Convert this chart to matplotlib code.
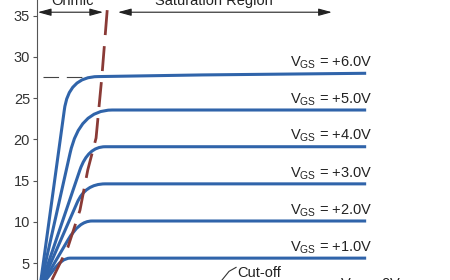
import matplotlib
matplotlib.use("Agg")
import matplotlib.pyplot as plt
from matplotlib.path import Path
from matplotlib.patches import PathPatch

plt.rcParams['font.family'] = ['Liberation Sans', 'DejaVu Sans']
plt.rcParams['mathtext.fontset'] = 'custom'
plt.rcParams['mathtext.rm'] = 'Liberation Sans'

# Curvas ID-VDS (VDS en V, ID en mA)
# puntos: origen, tramo lineal, inicio del codo, esquina (control), fin del codo, saturación
vds_6v = [0.0, 0.07, 0.66, 0.76, 1.48, 4.0, 7.97]
id_6v = [0.0, 2.0, 23.5, 27.6, 27.6, 27.8, 28.0]

vds_5v = [0.0, 0.07, 0.80, 1.03, 1.82, 7.97]
id_5v = [0.0, 2.0, 18.3, 23.55, 23.55, 23.55]

vds_4v = [0.0, 0.07, 1.04, 1.235, 1.65, 7.97]
id_4v = [0.0, 2.0, 16.3, 19.1, 19.1, 19.1]

vds_3v = [0.0, 0.07, 0.97, 1.167, 1.65, 7.97]
id_3v = [0.0, 2.0, 12.3, 14.6, 14.6, 14.6]

vds_2v = [0.0, 0.07, 0.75, 1.014, 1.33, 7.97]
id_2v = [0.0, 2.0, 7.8, 10.1, 10.1, 10.1]

vds_1v = [0.0, 0.07, 0.39, 0.60, 0.80, 7.97]
id_1v = [0.0, 2.0, 4.1, 5.6, 5.6, 5.6]

vgs_labels = ['+6.0V', '+5.0V', '+4.0V', '+3.0V', '+2.0V', '+1.0V']

# Lugar geométrico de estrangulamiento (línea discontinua)
vds_pinch = [0.36, 0.75, 1.04, 1.23, 1.43, 1.57, 1.72]
id_pinch = [2.95, 6.95, 11.4, 16.3, 20.15, 27.55, 36.9]

yticks = [5, 10, 15, 20, 25, 30, 35]

curves = [(vds_6v, id_6v), (vds_5v, id_5v), (vds_4v, id_4v),
          (vds_3v, id_3v), (vds_2v, id_2v), (vds_1v, id_1v)]

fig = plt.figure(figsize=(4.5, 2.8), dpi=100)
ax = fig.add_axes([37 / 450, 0, 413 / 450, 1])
ax.set_xlim(0, 10)
ax.set_ylim(2.95, 36.88)

blue = '#3064AA'
for (x, y), lab in zip(curves, vgs_labels):
    codes = [Path.MOVETO, Path.LINETO, Path.LINETO, Path.CURVE3, Path.CURVE3]
    codes += [Path.LINETO] * (len(x) - len(codes))
    path = Path(list(zip(x, y)), codes)
    ax.add_patch(PathPatch(path, fill=False, edgecolor=blue, lw=2.2,
                           capstyle='butt', zorder=3))
    ax.text(8.11, y[-1] + 0.85, r'V$_{\rm GS}$ = ' + lab, ha='right',
            va='baseline', fontsize=10.5, color='#222222')

ax.plot(vds_pinch, id_pinch, color='#8A3A36', lw=2.0, dashes=(9, 4),
        zorder=4)

# Línea de referencia fina a la altura de la curva de +6.0V
ax.plot([0.15, 1.22], [27.6, 27.6], color='#444444', lw=0.8,
        dashes=(14, 7), zorder=2)

# Flechas de regiones
arrow_kw = dict(arrowstyle='<|-|>,head_length=0.8,head_width=0.22',
                color='#222222', lw=0.8, shrinkA=0, shrinkB=0)
ax.annotate('', xy=(0.02, 35.4), xytext=(1.60, 35.4), arrowprops=arrow_kw)
ax.annotate('', xy=(1.96, 35.4), xytext=(7.14, 35.4), arrowprops=arrow_kw)
ax.text(0.85, 36.28, 'Ohmic', ha='center', va='baseline', fontsize=10.5,
        color='#222222')
ax.text(4.29, 36.28, 'Saturation Region', ha='center', va='baseline',
        fontsize=10.5, color='#222222')

# Región de corte
ax.plot([4.82, 4.65, 4.48, 4.35], [4.48, 4.0, 2.95, 2.2], color='#333333',
        lw=0.8)
ax.text(4.84, 3.3, 'Cut-off', ha='left', va='baseline', fontsize=10.5,
        color='#222222')
ax.text(7.34, 3.43, r'V$_{\rm GS}$ = 0V', ha='left', va='top', fontsize=10.5,
        color='#222222', clip_on=False)

for side in ['top', 'right', 'bottom']:
    ax.spines[side].set_visible(False)
ax.spines['left'].set_color('#555555')
ax.spines['left'].set_linewidth(0.8)
ax.set_xticks([])
ax.set_yticks(yticks)
ax.tick_params(axis='y', length=3, width=0.8, pad=2, labelsize=10.5,
               colors='#555555', labelcolor='#333333')

fig.savefig('out.png', dpi=100)
